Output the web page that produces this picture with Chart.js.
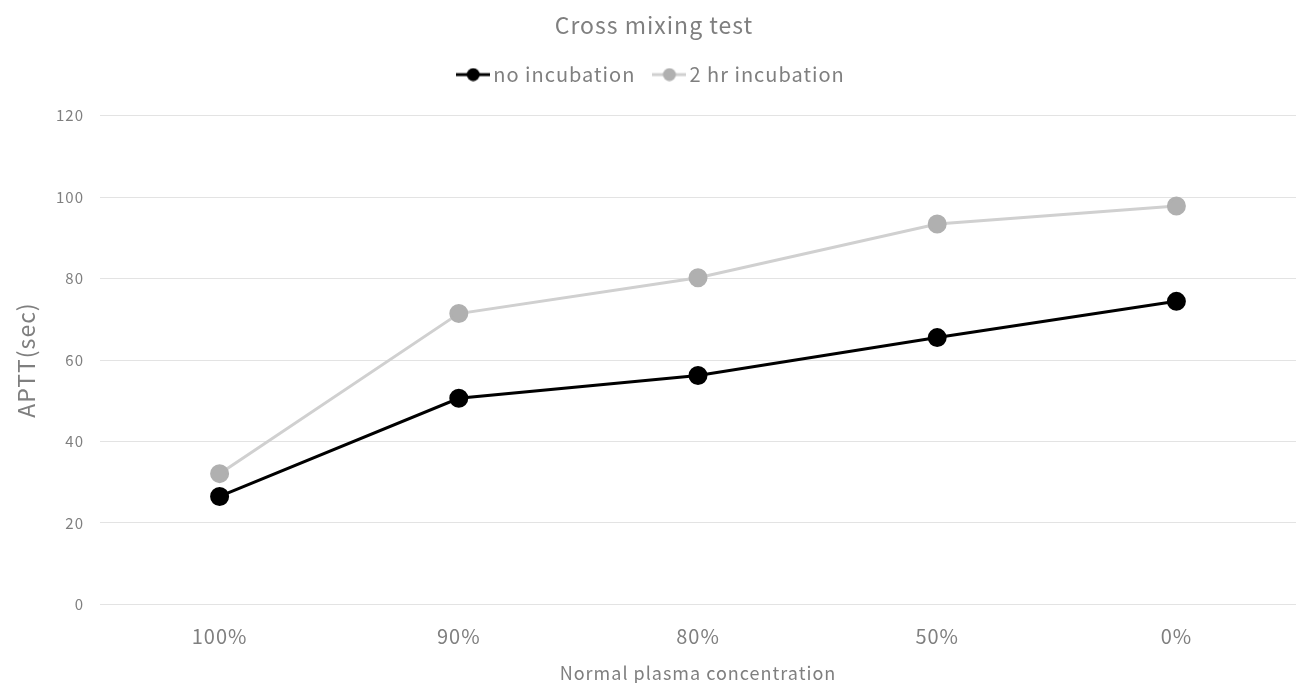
<!DOCTYPE html>
<html>
<head>
<meta charset="utf-8">
<script src="https://cdn.jsdelivr.net/npm/chart.js@4"></script>
<style>
  html, body { margin: 0; padding: 0; background: #fff; }
  #wrap { width: 1296px; height: 683px; }
</style>
</head>
<body>
<div id="wrap"><canvas id="mixChart" width="1296" height="683"></canvas></div>
<script>
// data
var concentrations = ['100%', '90%', '80%', '50%', '0%'];
var noIncubation = [26.5, 50.6, 56.2, 65.5, 74.4];
var twoHrIncubation = [32.1, 71.4, 80.2, 93.4, 97.8];

var font = "'Noto Sans CJK JP', 'Noto Sans', sans-serif";
var textGrey = '#7f7f7f';

// legend marker: short line with a dot
function legendMarker(lineColor, dotColor) {
    var c = document.createElement('canvas');
    c.width = 34; c.height = 14;
    var g = c.getContext('2d');
    g.strokeStyle = lineColor;
    g.lineWidth = 3;
    g.beginPath(); g.moveTo(0, 7); g.lineTo(34, 7); g.stroke();
    g.fillStyle = dotColor;
    g.beginPath(); g.arc(17, 7, 6.5, 0, Math.PI * 2); g.fill();
    return c;
}
var markers = [legendMarker('#000000', '#000000'), legendMarker('#d0d0d0', '#b0b0b0')];

// wider text spacing, like the original font
var spacingPlugin = {
    id: 'spacing',
    beforeInit: function (chart) { chart.ctx.letterSpacing = '1px'; },
    beforeLayout: function (chart) { chart.ctx.letterSpacing = '1px'; },
    beforeDraw: function (chart) { chart.ctx.letterSpacing = '1px'; }
};

// extra room under the legend
var legendGap = {
    id: 'legendGap',
    beforeInit: function (chart) {
        var fit = chart.legend.fit;
        chart.legend.fit = function () {
            fit.bind(chart.legend)();
            this.height += 21;
        };
    }
};

var ctx = document.getElementById('mixChart').getContext('2d');
var mixChart = new Chart(ctx, {
    type: 'line',
    data: {
        labels: concentrations,
        datasets: [
            {
                label: 'no incubation',
                data: noIncubation,
                borderColor: '#000000',
                backgroundColor: '#000000',
                pointBackgroundColor: '#000000',
                pointBorderColor: '#000000',
                borderWidth: 3,
                pointRadius: 8,
                tension: 0,
                clip: false
            },
            {
                label: '2 hr incubation',
                data: twoHrIncubation,
                borderColor: '#d0d0d0',
                backgroundColor: '#b0b0b0',
                pointBackgroundColor: '#b0b0b0',
                pointBorderColor: '#b0b0b0',
                borderWidth: 3,
                pointRadius: 8,
                tension: 0,
                clip: false
            }
        ]
    },
    plugins: [spacingPlugin, legendGap],
    options: {
        responsive: false,
        animation: false,
        layout: { autoPadding: false, padding: { left: 12, right: 0, top: 11, bottom: -1 } },
        plugins: {
            title: {
                display: true,
                text: 'Cross mixing test',
                color: textGrey,
                font: { family: font, size: 23, weight: 'normal' },
                padding: { top: 0, bottom: 2 }
            },
            legend: {
                position: 'top',
                labels: {
                    color: textGrey,
                    font: { family: font, size: 20 },
                    usePointStyle: true,
                    boxWidth: 34,
                    boxHeight: 14,
                    padding: 24,
                    generateLabels: function (chart) {
                        var items = Chart.defaults.plugins.legend.labels.generateLabels(chart);
                        items.forEach(function (it, i) { it.pointStyle = markers[i]; });
                        return items;
                    }
                }
            },
            tooltip: { enabled: false }
        },
        scales: {
            x: {
                offset: true,
                grid: { display: false },
                border: { display: false },
                ticks: { color: textGrey, font: { family: font, size: 20 }, padding: 12 },
                title: {
                    display: true,
                    text: 'Normal plasma concentration',
                    color: textGrey,
                    font: { family: font, size: 18 },
                    padding: { top: 2, bottom: 0 }
                },
                afterFit: function (scale) {
                    scale.paddingLeft = 0;
                    scale.paddingRight = 0;
                }
            },
            y: {
                min: 0,
                max: 120,
                ticks: { stepSize: 20, color: textGrey, font: { family: font, size: 15 }, padding: 16 },
                grid: { color: '#e3e3e3', lineWidth: 1, drawTicks: false },
                border: { display: false },
                title: {
                    display: true,
                    text: 'APTT(sec)',
                    color: textGrey,
                    font: { family: font, size: 23 },
                    padding: { top: 0, bottom: 4 }
                },
                afterFit: function (scale) { scale.width = 88; }
            }
        }
    }
});
</script>
</body>
</html>
